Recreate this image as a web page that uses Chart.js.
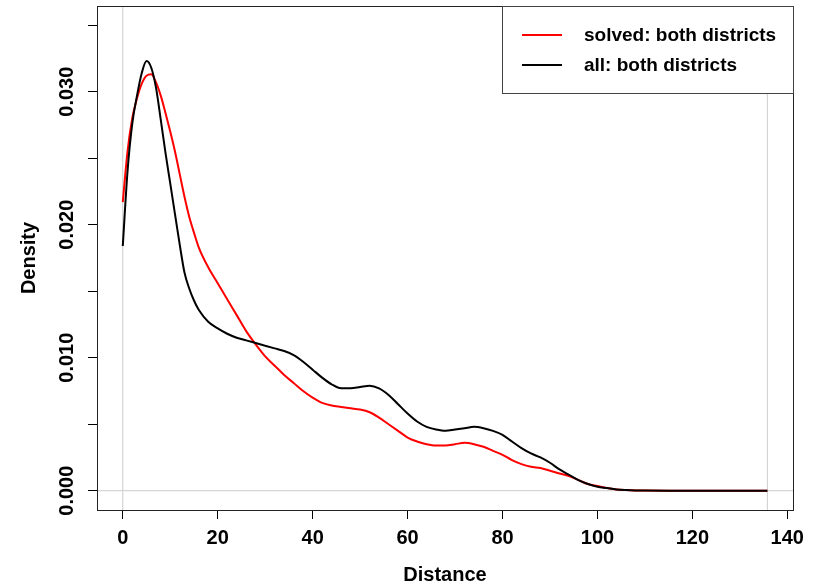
<!DOCTYPE html>
<html>
<head>
<meta charset="utf-8">
<script src="https://cdn.jsdelivr.net/npm/chart.js@4.4.1/dist/chart.umd.min.js"></script>
<style>
  html, body { margin: 0; padding: 0; background: #fff; }
  canvas { display: block; }
</style>
</head>
<body>
<canvas id="densityChart" width="821" height="586"></canvas>
<script>
// distance grid (x) and density estimates
var distance = [0,1,2,3,4,5,6,7,8,9,10,11,12,13,14,15,16,
  18,20,22,24,26,28,30,32,34,36,38,40,42,44,46,48,50,52,54,56,58,60,62,64,66,68,70,72,74,76,78,80,
  82,84,86,88,90,92,94,96,98,100,102,104,106,108,110,115,120,125,130,135.8];

var solvedDensity = [0.0217,0.0255,0.0280,0.0295,0.0306,0.0312,0.0313,0.0307,0.0297,0.0284,0.0270,0.0255,0.0238,0.0221,0.0206,0.0194,0.0183,
  0.0168,0.0156,0.0144,0.0132,0.0120,0.0110,0.0101,0.0094,0.0087,0.0081,0.0075,0.0070,0.0066,0.0064,0.0063,0.0062,0.0061,0.0059,0.0055,0.0050,0.0045,0.0040,0.0037,0.0035,0.0034,0.0034,0.0035,0.0036,0.0035,0.0033,0.0030,0.0027,
  0.0023,0.0020,0.0018,0.0017,0.0015,0.0013,0.0011,0.0008,0.0005,0.00035,0.0002,0.0001,0.00005,0.00002,0.00001,0,0,0,0,0];

var allDensity = [0.0184,0.0240,0.0276,0.0297,0.0314,0.0323,0.0318,0.0303,0.0279,0.0254,0.0231,0.0208,0.0185,0.0164,0.0152,0.0143,0.0136,
  0.0127,0.0122,0.0118,0.0115,0.0113,0.0111,0.0109,0.0107,0.0105,0.0102,0.0097,0.0091,0.0085,0.0080,0.0077,0.0077,0.0078,0.0079,0.0077,0.0072,0.0065,0.0058,0.0052,0.0048,0.0046,0.0045,0.0046,0.0047,0.0048,0.0047,0.0045,0.0042,
  0.0037,0.0032,0.0028,0.0025,0.0021,0.0016,0.0012,0.0008,0.0005,0.0003,0.0002,0.0001,0.00005,0.00002,0.00001,0,0,0,0,0];

var seriesLabels = ['solved: both districts', 'all: both districts'];
var xTicks = [0, 20, 40, 60, 80, 100, 120, 140];
var yTicks = [0, 0.005, 0.010, 0.015, 0.020, 0.025, 0.030, 0.035];
var yLabelTicks = [0, 0.010, 0.020, 0.030];
var yTickLabels = ['0.000', '0.010', '0.020', '0.030'];
var xMin = -5.43, xMax = 141.2;
var yMin = -0.00145, yMax = 0.03644;
var dataMax = 135.8;

var FONT = '"Liberation Sans", Arial, sans-serif';

function toPoints(xs, ys) {
  return xs.map(function(x, i) { return { x: x, y: ys[i] }; });
}

var rStyle = {
  id: 'rStyle',
  afterDraw: function(chart) {
    var ctx = chart.ctx, a = chart.chartArea, ys = chart.scales.y;
    ctx.save();
    // plot box
    ctx.strokeStyle = '#222';
    ctx.lineWidth = 1;
    ctx.strokeRect(a.left + 0.5, a.top + 0.5, a.right - a.left, a.bottom - a.top);
    // rotated y tick labels
    ctx.fillStyle = '#000';
    ctx.font = 'bold 20px ' + FONT;
    ctx.textAlign = 'center';
    ctx.textBaseline = 'middle';
    yLabelTicks.forEach(function(v, i) {
      ctx.save();
      ctx.translate(67, ys.getPixelForValue(v));
      ctx.rotate(-Math.PI / 2);
      ctx.fillText(yTickLabels[i], 0, 0);
      ctx.restore();
    });
    // legend
    var w = 291, h = 87;
    var lx = a.right - w, ly = a.top;
    ctx.fillStyle = '#fff';
    ctx.fillRect(lx, ly, w, h);
    ctx.strokeStyle = '#444';
    ctx.strokeRect(lx + 0.5, ly + 0.5, w, h);
    ctx.textAlign = 'left';
    ctx.font = 'bold 19px ' + FONT;
    var items = chart.data.datasets.filter(function(d) { return d.inLegend; })
      .sort(function(p, q) { return p.legendIndex - q.legendIndex; });
    items.forEach(function(d, i) {
      var yy = ly + 29 + i * 30;
      ctx.strokeStyle = d.borderColor;
      ctx.lineWidth = 2;
      ctx.beginPath();
      ctx.moveTo(lx + 20, yy);
      ctx.lineTo(lx + 60, yy);
      ctx.stroke();
      ctx.fillStyle = '#000';
      ctx.fillText(d.label, lx + 82, yy + 1);
    });
    ctx.restore();
  }
};

new Chart(document.getElementById('densityChart'), {
  type: 'line',
  data: {
    datasets: [
      {
        label: seriesLabels[1],
        data: toPoints(distance, allDensity),
        borderColor: '#000000',
        borderWidth: 2,
        pointRadius: 0,
        cubicInterpolationMode: 'monotone',
        order: 0,
        inLegend: true,
        legendIndex: 1
      },
      {
        label: seriesLabels[0],
        data: toPoints(distance, solvedDensity),
        borderColor: '#ff0000',
        borderWidth: 2,
        pointRadius: 0,
        cubicInterpolationMode: 'monotone',
        order: 1,
        inLegend: true,
        legendIndex: 0
      },
      {
        label: 'zero',
        data: [{ x: xMin, y: 0 }, { x: xMax, y: 0 }],
        borderColor: '#cccccc',
        borderWidth: 1,
        pointRadius: 0,
        order: 2
      },
      {
        label: 'start',
        data: [{ x: 0, y: yMin }, { x: 0, y: yMax }],
        borderColor: '#cccccc',
        borderWidth: 1,
        pointRadius: 0,
        order: 2
      },
      {
        label: 'end',
        data: [{ x: dataMax, y: yMin }, { x: dataMax, y: yMax }],
        borderColor: '#cccccc',
        borderWidth: 1,
        pointRadius: 0,
        order: 2
      }
    ]
  },
  options: {
    responsive: false,
    animation: false,
    layout: { padding: { top: 6, right: 28, left: 0, bottom: 0 } },
    plugins: {
      legend: { display: false },
      tooltip: { enabled: false }
    },
    scales: {
      x: {
        type: 'linear',
        min: xMin,
        max: xMax,
        afterBuildTicks: function(s) { s.ticks = xTicks.map(function(v) { return { value: v }; }); },
        afterFit: function(s) { s.height = 76; },
        border: { display: false },
        grid: { drawOnChartArea: false, drawTicks: true, tickLength: 9, color: '#000' },
        ticks: {
          color: '#000',
          font: { family: FONT, size: 20, weight: 'bold' },
          padding: 7,
          maxRotation: 0,
          autoSkip: false
        },
        title: {
          display: true,
          text: 'Distance',
          color: '#000',
          font: { family: FONT, size: 20, weight: 'bold', lineHeight: 1 },
          padding: { top: 0, bottom: 1 }
        }
      },
      y: {
        type: 'linear',
        min: yMin,
        max: yMax,
        afterBuildTicks: function(s) { s.ticks = yTicks.map(function(v) { return { value: v }; }); },
        afterFit: function(s) { s.width = 97; },
        border: { display: false },
        grid: { drawOnChartArea: false, drawTicks: true, tickLength: 9, color: '#000' },
        ticks: { display: false },
        title: {
          display: true,
          text: 'Density',
          color: '#000',
          font: { family: FONT, size: 20, weight: 'bold', lineHeight: 1 },
          padding: { top: 19, bottom: 0 }
        }
      }
    }
  },
  plugins: [rStyle]
});
</script>
</body>
</html>
